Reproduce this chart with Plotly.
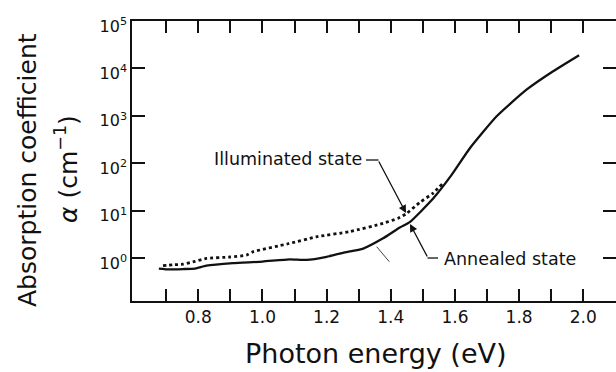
import plotly.graph_objects as go

# ---- data ----
annealed_energy = [0.677, 0.71, 0.752, 0.79, 0.825, 0.908, 1.0, 1.085, 1.137, 1.2,
                   1.251, 1.314, 1.376, 1.428, 1.459, 1.532, 1.589, 1.647, 1.73,
                   1.823, 1.906, 1.987]
annealed_alpha = [0.60, 0.575, 0.585, 0.60, 0.69, 0.78, 0.84, 0.94, 0.91, 1.06,
                  1.29, 1.58, 2.6, 4.4, 5.7, 18.0, 56.0, 209.0, 977.0,
                  3550.0, 8700.0, 19000.0]

illuminated_energy = [0.69, 0.72, 0.752, 0.79, 0.825, 0.90, 0.95, 0.97, 1.08, 1.168,
                      1.272, 1.376, 1.423, 1.447, 1.49, 1.532, 1.563]
illuminated_alpha = [0.69, 0.72, 0.74, 0.85, 0.98, 1.05, 1.15, 1.35, 2.0, 2.8,
                     3.6, 5.4, 6.9, 8.5, 14.8, 23.4, 38.0]

x_tick_values = [0.8, 1.0, 1.2, 1.4, 1.6, 1.8, 2.0]
x_tick_labels = ["0.8", "1.0", "1.2", "1.4", "1.6", "1.8", "2.0"]
x_minor_values = [0.7, 0.9, 1.1, 1.3, 1.5, 1.7, 1.9]
y_tick_values = [1, 10, 100, 1000, 10000, 100000]
y_tick_labels = ["10<sup>0</sup>", "10<sup>1</sup>", "10<sup>2</sup>",
                 "10<sup>3</sup>", "10<sup>4</sup>", "10<sup>5</sup>"]

FONT = "DejaVu Sans"
INK = "#111111"

fig = go.Figure()
fig.add_trace(go.Scatter(
    x=annealed_energy, y=annealed_alpha, mode="lines", name="Annealed state",
    line=dict(color=INK, width=2.3, shape="spline", smoothing=0.5)))
fig.add_trace(go.Scatter(
    x=illuminated_energy, y=illuminated_alpha, mode="lines", name="Illuminated state",
    line=dict(color=INK, width=2.8, dash="dot", shape="spline", smoothing=0.5)))
# empty trace so that the right-hand tick axis exists
fig.add_trace(go.Scatter(x=[], y=[], yaxis="y2", showlegend=False, hoverinfo="skip"))

axis_common = dict(color=INK, linecolor=INK, linewidth=1.5, tickwidth=1.5,
                   tickcolor=INK, showgrid=False, zeroline=False)

fig.update_layout(
    width=616, height=372,
    margin=dict(l=132, r=0, t=21, b=71, pad=0),
    paper_bgcolor="white", plot_bgcolor="white",
    showlegend=False,
    font=dict(family=FONT, color=INK),
    xaxis=dict(
        range=[0.5933, 2.102], tickmode="array", tickvals=x_tick_values,
        ticktext=x_tick_labels, ticks="inside", ticklen=12, showline=True,
        mirror="allticks", tickfont=dict(size=17, family=FONT),
        ticklabelstandoff=0,
        minor=dict(tickmode="array", tickvals=x_minor_values, ticks="inside",
                   ticklen=7, tickwidth=1.5, tickcolor=INK, showgrid=False),
        **axis_common),
    yaxis=dict(
        type="log", range=[-0.907, 5.0], tickmode="array", tickvals=y_tick_values,
        ticktext=y_tick_labels, ticks="inside", ticklen=13, showline=True,
        mirror=False, tickfont=dict(size=16, family=FONT), ticklabelshift=5,
        **axis_common),
    yaxis2=dict(
        type="log", range=[-0.907, 5.0], overlaying="y", side="right",
        tickmode="array", tickvals=y_tick_values, ticks="inside", ticklen=13,
        showticklabels=False, showline=False, **axis_common),
)

W = 484.0
H = 280.0
def px(xp):
    return (xp - 132.0) / W
def py(yp):
    return (301.0 - yp) / H

ann = []
# axis titles
ann.append(dict(text="Photon energy (eV)", x=px(376), y=py(353), xref="paper", yref="paper",
                showarrow=False, xanchor="center", yanchor="middle",
                font=dict(size=27, family=FONT, color=INK)))
ann.append(dict(text="Absorption coefficient", x=px(27), y=py(170), xref="paper", yref="paper",
                showarrow=False, xanchor="center", yanchor="middle", textangle=-90,
                font=dict(size=25, family=FONT, color=INK)))
ann.append(dict(text="<i>α</i> (cm<sup>−1</sup>)", x=px(66), y=py(169), xref="paper", yref="paper",
                showarrow=False, xanchor="center", yanchor="middle", textangle=-90,
                font=dict(size=25, family=FONT, color=INK)))
# curve labels
ann.append(dict(text="Illuminated state", x=px(364), y=py(159), xref="paper", yref="paper",
                showarrow=False, xanchor="right", yanchor="middle",
                font=dict(size=17.5, family=FONT, color=INK)))
ann.append(dict(text="Annealed state", x=px(442), y=py(259), xref="paper", yref="paper",
                showarrow=False, xanchor="left", yanchor="middle",
                font=dict(size=17.5, family=FONT, color=INK)))
# arrows (diagonal part of the leaders)
ann.append(dict(text="", x=px(406), y=py(213), xref="paper", yref="paper",
                ax=378 - 406, ay=160 - 213, showarrow=True, arrowhead=2,
                arrowsize=1.2, arrowwidth=1.3, arrowcolor=INK))
ann.append(dict(text="", x=px(410), y=py(224), xref="paper", yref="paper",
                ax=428 - 410, ay=258 - 224, showarrow=True, arrowhead=2,
                arrowsize=1.2, arrowwidth=1.3, arrowcolor=INK))
fig.update_layout(annotations=ann)

shapes = [
    dict(type="line", xref="paper", yref="paper", x0=px(366), x1=px(378.5),
         y0=py(160), y1=py(160), line=dict(color=INK, width=1.3)),
    dict(type="line", xref="paper", yref="paper", x0=px(427.5), x1=px(438),
         y0=py(258), y1=py(258), line=dict(color=INK, width=1.3)),
    dict(type="line", xref="paper", yref="paper", x0=px(376.7), x1=px(389.3),
         y0=py(246.7), y1=py(261.7), line=dict(color=INK, width=0.8)),
]
fig.update_layout(shapes=shapes)

fig.write_html("out.html")
